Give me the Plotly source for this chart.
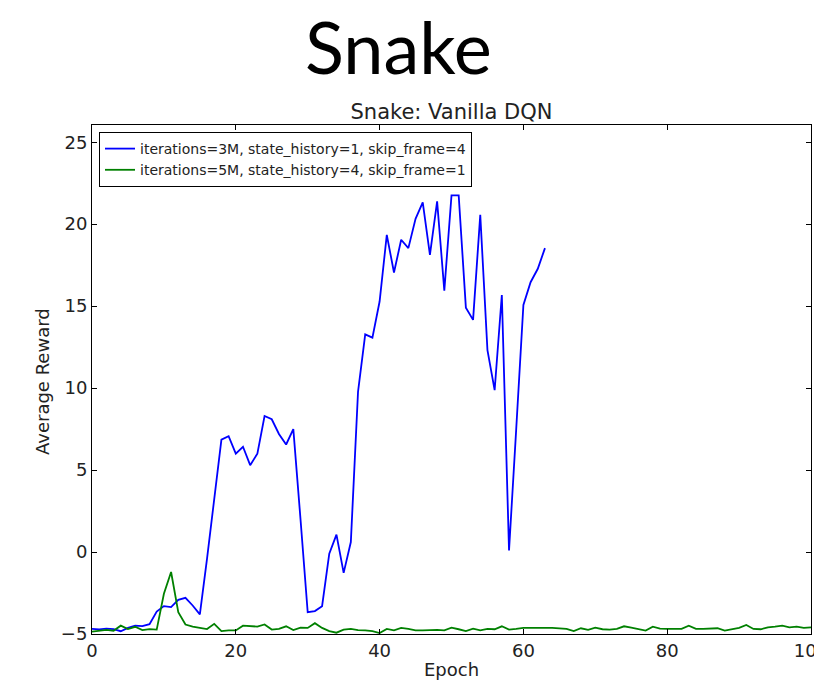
import plotly.graph_objects as go

epochs_blue = list(range(0, 64))
reward_blue = [-4.69, -4.72, -4.67, -4.70, -4.83, -4.63, -4.49, -4.52, -4.40, -3.63,
               -3.30, -3.36, -2.92, -2.79, -3.26, -3.80, -0.40, 3.26, 6.86, 7.07,
               6.00, 6.42, 5.30, 6.00, 8.30, 8.10, 7.20, 6.56, 7.50, 2.00,
               -3.67, -3.60, -3.30, -0.10, 1.06, -1.27, 0.61, 9.78, 13.28, 13.08,
               15.28, 19.35, 17.05, 19.05, 18.54, 20.33, 21.33, 18.13, 21.39, 15.95,
               21.76, 21.76, 14.91, 14.16, 20.57, 12.32, 9.88, 15.68, 0.10, 7.50,
               15.07, 16.46, 17.28, 18.54]

epochs_green = list(range(0, 101))
reward_green = [-4.85, -4.78, -4.75, -4.80, -4.49, -4.70, -4.56, -4.76, -4.70, -4.73,
                -2.55, -1.22, -3.67, -4.42, -4.55, -4.63, -4.70, -4.38, -4.82, -4.78,
                -4.78, -4.49, -4.53, -4.55, -4.42, -4.73, -4.69, -4.53, -4.76, -4.61,
                -4.63, -4.34, -4.63, -4.82, -4.92, -4.73, -4.69, -4.76, -4.78, -4.82,
                -4.94, -4.69, -4.78, -4.63, -4.69, -4.78, -4.78, -4.76, -4.75, -4.78,
                -4.61, -4.71, -4.82, -4.67, -4.78, -4.69, -4.71, -4.53, -4.73, -4.69,
                -4.63, -4.63, -4.61, -4.63, -4.63, -4.65, -4.69, -4.82, -4.65, -4.75,
                -4.61, -4.71, -4.73, -4.69, -4.53, -4.61, -4.69, -4.79, -4.55, -4.67,
                -4.69, -4.71, -4.69, -4.49, -4.69, -4.69, -4.69, -4.65, -4.79, -4.69,
                -4.63, -4.45, -4.69, -4.71, -4.59, -4.55, -4.49, -4.59, -4.55, -4.63,
                -4.59]

name_blue = "iterations=3M, state_history=1, skip_frame=4"
name_green = "iterations=5M, state_history=4, skip_frame=1"

x_ticks = [0, 20, 40, 60, 80, 100]
y_ticks = [-5, 0, 5, 10, 15, 20, 25]

font_family = "DejaVu Sans"
txt = "#222"

fig = go.Figure()
fig.add_trace(go.Scatter(x=epochs_blue, y=reward_blue, mode="lines", name=name_blue,
                         line=dict(color="#0000ff", width=1.8)))
fig.add_trace(go.Scatter(x=epochs_green, y=reward_green, mode="lines", name=name_green,
                         line=dict(color="#008000", width=1.8)))

axis_common = dict(showgrid=False, zeroline=False, showline=True, linecolor="black",
                   linewidth=1, mirror="allticks", ticks="inside", ticklen=5,
                   tickcolor="black", automargin=False, ticklabeloverflow="allow",
                   tickfont=dict(family=font_family, size=18, color=txt))

fig.update_xaxes(range=[0, 100], tickvals=x_ticks, **axis_common)
fig.update_yaxes(range=[-5, 26.05], tickvals=y_ticks, **axis_common)

# plot area: x 92..811, y 125..634 (paper coords)
def px_to_paper_x(p):
    return (p - 92) / 719.0

def px_to_paper_y(p):
    return (634 - p) / 509.0

fig.update_layout(
    width=814, height=682,
    margin=dict(l=92, r=3, t=125, b=48, autoexpand=False),
    paper_bgcolor="white", plot_bgcolor="white",
    title=dict(text="Snake: Vanilla DQN", x=0.5, xref="paper", xanchor="center",
               y=1 - 112 / 682, yref="container", yanchor="middle", automargin=False,
               font=dict(family=font_family, size=21, color=txt)),
    legend=dict(x=px_to_paper_x(99), y=px_to_paper_y(132), xanchor="left", yanchor="top",
                bgcolor="white", bordercolor="black", borderwidth=1,
                font=dict(family=font_family, size=14, color=txt),
                tracegroupgap=0),
    showlegend=True,
    annotations=[
        dict(text="Snake", xref="paper", yref="paper", x=px_to_paper_x(398),
             y=px_to_paper_y(46), xanchor="center", yanchor="middle", showarrow=False,
             font=dict(family="Lato", size=72, color="black")),
        dict(text="Epoch", xref="paper", yref="paper", x=0.5, y=px_to_paper_y(669),
             xanchor="center", yanchor="middle", showarrow=False,
             font=dict(family=font_family, size=18, color=txt)),
        dict(text="Average Reward", xref="paper", yref="paper", x=px_to_paper_x(42),
             y=px_to_paper_y(382), xanchor="center", yanchor="middle", showarrow=False,
             textangle=-90, font=dict(family=font_family, size=18, color=txt)),
    ],
)

fig.write_html("out.html", config={"displayModeBar": False},
               post_script="document.body.style.margin='0px';")
